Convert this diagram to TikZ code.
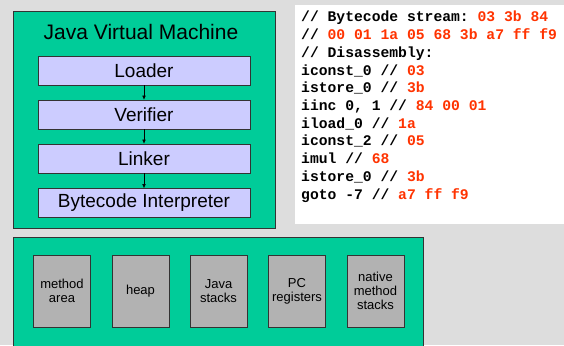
\documentclass[tikz,border=0pt]{standalone}
\usepackage{fontspec}
\setmainfont{Liberation Sans}
\setmonofont{Liberation Mono}
\usetikzlibrary{arrows.meta}
\definecolor{bgc}{HTML}{DDDDDD}
\definecolor{jvmgreen}{HTML}{00CC99}
\definecolor{lav}{HTML}{CCCCFF}
\definecolor{boxgray}{HTML}{B2B2B2}
\definecolor{codered}{HTML}{FF3300}
\newcommand{\R}[1]{\textcolor{codered}{#1}}
\tikzset{
  panel/.style={draw=black!80, fill=jvmgreen, line width=0.8pt},
  stage/.style={draw=black!80, fill=lav, line width=0.6pt, minimum width=212pt, minimum height=29pt, inner sep=0pt, font=\fontsize{19}{22}\selectfont},
  area/.style={draw=black!80, fill=boxgray, line width=0.6pt, minimum width=57pt, minimum height=72pt, inner sep=0pt, align=center, font=\fontsize{13}{14.3}\selectfont},
  codeline/.style={anchor=base west, inner sep=0pt, font=\fontsize{14.7}{17.7}\selectfont\ttfamily\bfseries},
  flow/.style={-{Latex[length=4pt,width=3.5pt]}, line width=0.5pt, black}
}
\begin{document}
\begin{tikzpicture}[x=1pt,y=-1pt]
\fill[bgc] (0,0) rectangle (564,345);
\useasboundingbox (0,0) rectangle (564,345);
% JVM panel
\draw[panel] (13,11) rectangle (275,228);
\node[font=\fontsize{21}{24}\selectfont, inner sep=0pt] (title) at (141,32) {Java Virtual Machine};
\node[stage] (loader) at (144,70.5) {Loader};
\node[stage] (verifier) at (144,114.5) {Verifier};
\node[stage] (linker) at (144,158.5) {Linker};
\node[stage] (interp) at (144,203) {Bytecode Interpreter};
\draw[flow] (loader.south) -- (verifier.north);
\draw[flow] (verifier.south) -- (linker.north);
\draw[flow] (linker.south) -- (interp.north);
% code panel
\fill[white] (295,5) rectangle (564,224);
\node[codeline] (c1) at (301,22) {// Bytecode stream: \R{03 3b 84}};
\node[codeline] (c2) at (301,39.7) {// \R{00 01 1a 05 68 3b a7 ff f9}};
\node[codeline] (c3) at (301,57.4) {// Disassembly:};
\node[codeline] (c4) at (301,75.1) {iconst\_0 // \R{03}};
\node[codeline] (c5) at (301,92.8) {istore\_0 // \R{3b}};
\node[codeline] (c6) at (301,110.5) {iinc 0, 1 // \R{84 00 01}};
\node[codeline] (c7) at (301,128.2) {iload\_0 // \R{1a}};
\node[codeline] (c8) at (301,145.9) {iconst\_2 // \R{05}};
\node[codeline] (c9) at (301,163.6) {imul // \R{68}};
\node[codeline] (c10) at (301,181.3) {istore\_0 // \R{3b}};
\node[codeline] (c11) at (301,199) {goto -7 // \R{a7 ff f9}};
% runtime data areas panel
\draw[panel] (13,237) rectangle (423,350);
\node[area] (method) at (62,291) {method\\area};
\node[area] (heap) at (140.5,291) {heap};
\node[area] (jstacks) at (218.5,291) {Java\\stacks};
\node[area] (pc) at (297,291) {PC\\registers};
\node[area] (native) at (375.5,291) {native\\method\\stacks};
\end{tikzpicture}
\end{document}
